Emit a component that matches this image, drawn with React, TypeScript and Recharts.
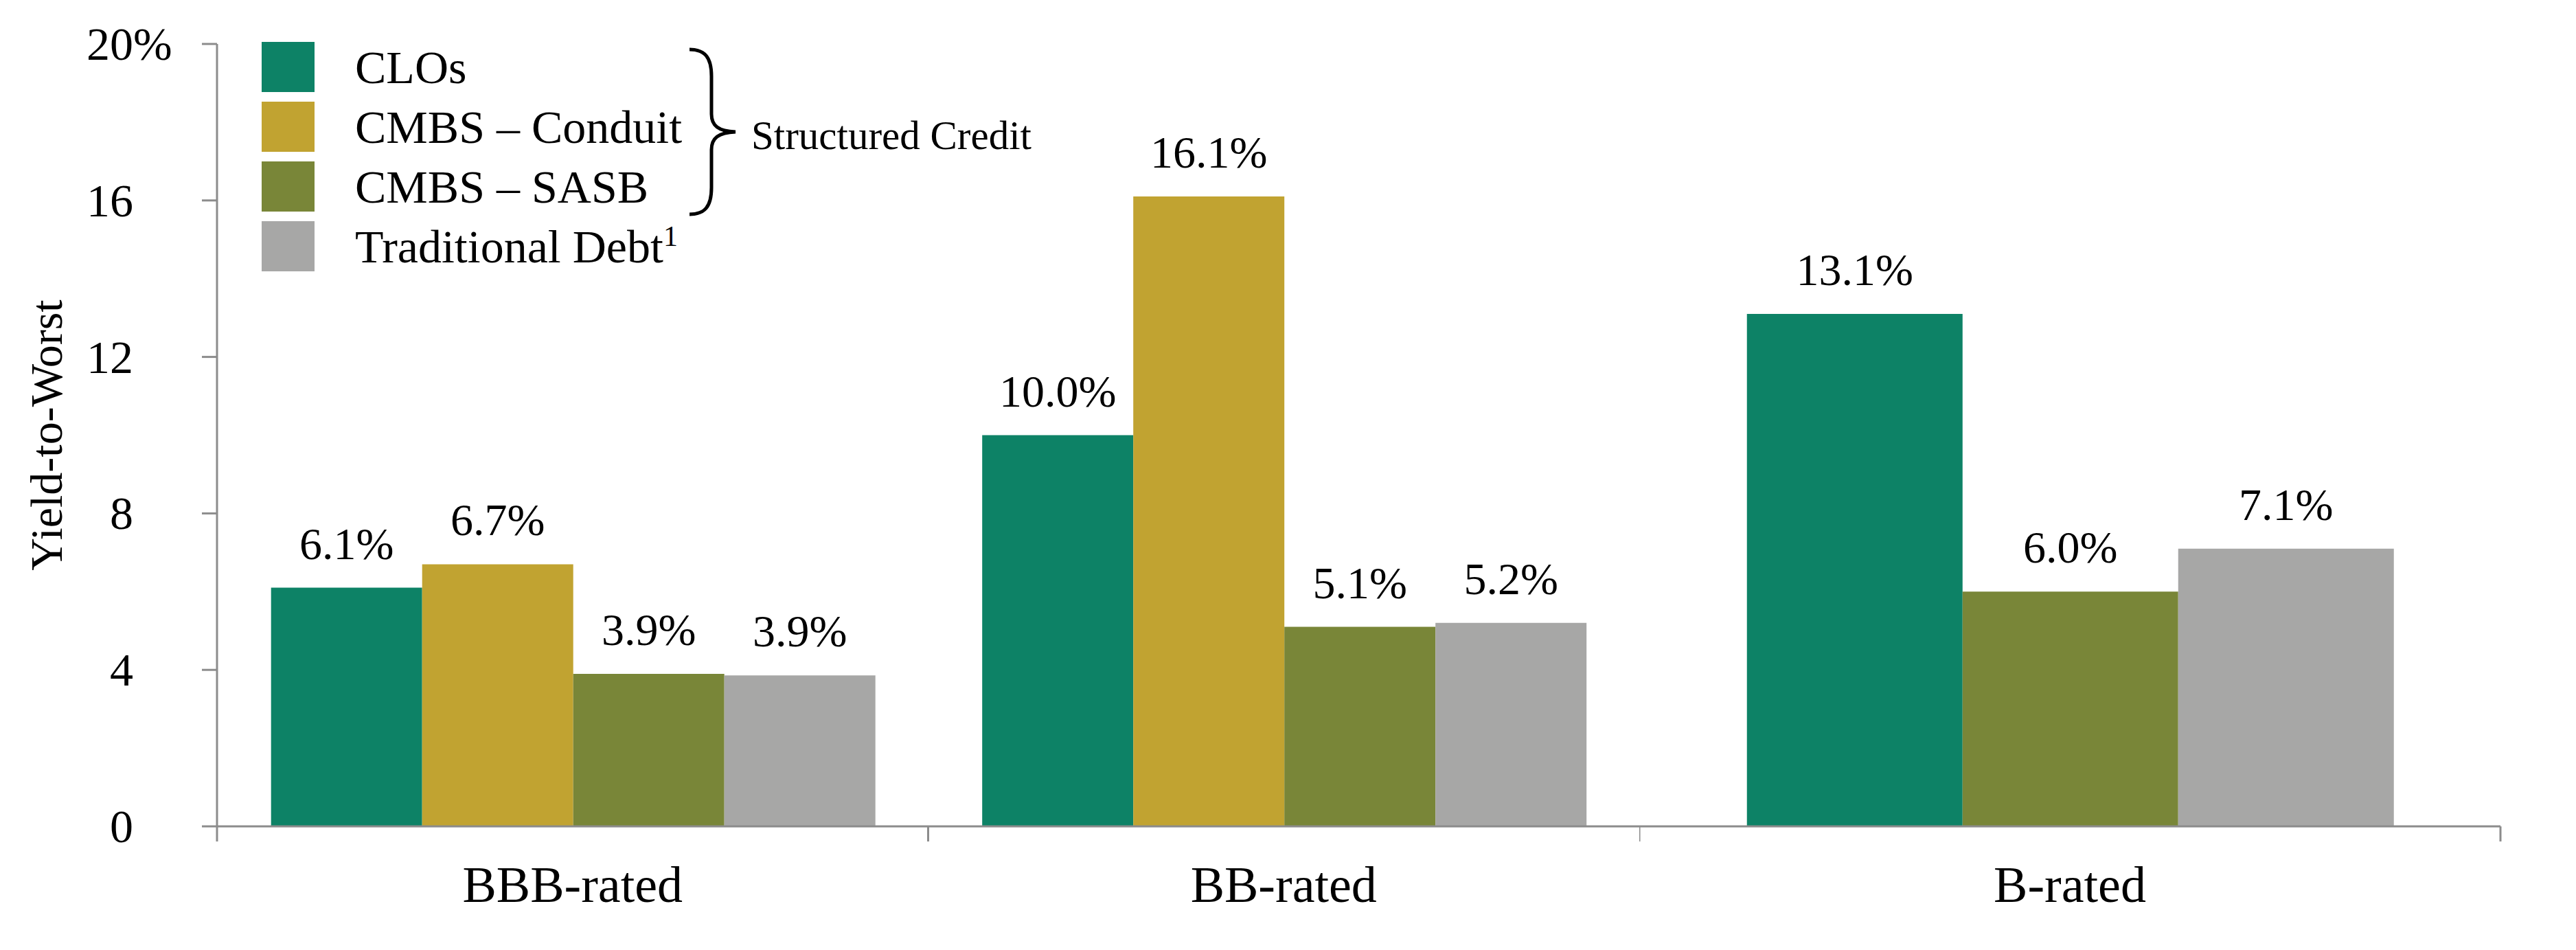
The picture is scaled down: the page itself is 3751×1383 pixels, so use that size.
import { Bar, BarChart, LabelList, Legend, XAxis, YAxis } from "recharts";

const FONT = '"Liberation Serif", "Times New Roman", serif';
const AXIS_GRAY = "#8c8c8c";

const categories = ["BBB-rated", "BB-rated", "B-rated"];
const closValues = [6.1, 10.0, 13.1];
const conduitValues: (number | null)[] = [6.7, 16.1, null];
const sasbValues = [3.9, 5.1, 6.0];
const traditionalValues = [3.86, 5.2, 7.1];
const yTicks = [0, 4, 8, 12, 16, 20];

const series = [
  { key: "clos", name: "CLOs", color: "#0d8266", values: closValues },
  { key: "conduit", name: "CMBS – Conduit", color: "#c1a331", values: conduitValues },
  { key: "sasb", name: "CMBS – SASB", color: "#798638", values: sasbValues },
  { key: "traditional", name: "Traditional Debt", color: "#a7a7a6", values: traditionalValues },
];

type Row = { category: string; [k: string]: number | string | null };

const rows: Row[] = categories.map((category, i) => {
  const row: Row = { category };
  series.forEach((s) => {
    row[s.key] = s.values[i];
  });
  return row;
});

const leftRows = rows.slice(0, 2);
const rightRows = rows.slice(2);
const rightSeries = series.filter((s) => s.values[2] != null);

const formatPct = (v: any) => (v == null ? "" : `${Number(v).toFixed(1)}%`);

const textStyle = { fontFamily: FONT };

function YTick({ x, y, payload }: any) {
  return (
    <g>
      <text x={x} y={y} textAnchor="end" dominantBaseline="central" style={textStyle} fontSize={68} fill="#000">
        {payload.value}
      </text>
      {payload.value === 20 && (
        <text x={x} y={y} textAnchor="start" dominantBaseline="central" style={textStyle} fontSize={68} fill="#000">
          %
        </text>
      )}
    </g>
  );
}

function makeCategoryTick(closeRight: boolean) {
  return function CategoryTick({ x, y, payload, width, visibleTicksCount, index }: any) {
    const half = payload?.offset || width / visibleTicksCount / 2;
    const isLast = index === visibleTicksCount - 1;
    return (
      <g>
        <line x1={x - half} x2={x - half} y1={y} y2={y + 22} stroke={AXIS_GRAY} strokeWidth={3} />
        {closeRight && isLast && (
          <line x1={x + half} x2={x + half} y1={y} y2={y + 22} stroke={AXIS_GRAY} strokeWidth={3} />
        )}
        <text x={x} y={y + 110} textAnchor="middle" style={textStyle} fontSize={74} fill="#000">
          {payload.value}
        </text>
      </g>
    );
  };
}

function LegendContent({ payload }: any) {
  const items = payload || [];
  return (
    <svg width={1200} height={340} style={{ overflow: "visible" }}>
      {items.map((entry: any, i: number) => (
        <g key={entry.value} transform={`translate(0, ${i * 87})`}>
          <rect x={0} y={0} width={77} height={73} fill={entry.color} />
          <text x={136} y={60} style={textStyle} fontSize={68} fill="#000">
            {entry.value}
            {i === items.length - 1 && (
              <tspan fontSize={42} dy={-24}>
                1
              </tspan>
            )}
          </text>
        </g>
      ))}
      <path
        d="M 623 11 C 645 11 655 22 655 50 L 655 105 C 655 122 665 130 690 131 C 665 132 655 140 655 157 L 655 212 C 655 240 645 251 623 251"
        fill="none"
        stroke="#000"
        strokeWidth={5}
      />
      <text x={713} y={156} style={textStyle} fontSize={59} fill="#000">
        Structured Credit
      </text>
    </svg>
  );
}

export default function App() {
  return (
    <div
      style={{
        position: "absolute",
        left: 0,
        top: 0,
        width: 3751,
        height: 1383,
        background: "#fff",
        fontFamily: FONT,
      }}
    >
      <div style={{ position: "absolute", left: 0, top: 0 }}>
        <BarChart
          width={2387}
          height={1383}
          data={leftRows}
          margin={{ top: 64, right: 0, bottom: 0, left: 0 }}
          barCategoryGap="7.6%"
          barGap={0}
          style={textStyle}
        >
          <XAxis
            dataKey="category"
            height={180}
            interval={0}
            tickSize={0}
            tickMargin={0}
            tickLine={false}
            axisLine={{ stroke: AXIS_GRAY, strokeWidth: 3 }}
            tick={makeCategoryTick(false)}
          />
          <YAxis
            width={316}
            domain={[0, 20]}
            ticks={yTicks}
            interval={0}
            tickSize={22}
            tickMargin={100}
            axisLine={{ stroke: AXIS_GRAY, strokeWidth: 3 }}
            tickLine={{ stroke: AXIS_GRAY, strokeWidth: 3 }}
            tick={<YTick />}
            label={{
              value: "Yield-to-Worst",
              angle: -90,
              position: "center",
              dx: -91,
              style: textStyle,
              fontSize: 66,
              fill: "#000",
            }}
          />
          <Legend
            layout="horizontal"
            verticalAlign="middle"
            align="center"
            wrapperStyle={{ left: 381, top: 61, width: 1200, height: 340 }}
            content={<LegendContent />}
          />
          {series.map((s) => (
            <Bar key={s.key} dataKey={s.key} name={s.name} fill={s.color} isAnimationActive={false}>
              <LabelList
                dataKey={s.key}
                position="top"
                offset={42}
                formatter={formatPct}
                style={textStyle}
                fontSize={66}
                fill="#000"
              />
            </Bar>
          ))}
        </BarChart>
      </div>
      <div style={{ position: "absolute", left: 2387, top: 0 }}>
        <BarChart
          width={1364}
          height={1383}
          data={rightRows}
          margin={{ top: 64, right: 110, bottom: 0, left: 0 }}
          barCategoryGap="12.5%"
          barGap={0}
          style={textStyle}
        >
          <XAxis
            dataKey="category"
            height={180}
            interval={0}
            tickSize={0}
            tickMargin={0}
            tickLine={false}
            axisLine={{ stroke: AXIS_GRAY, strokeWidth: 3 }}
            tick={makeCategoryTick(true)}
          />
          <YAxis hide domain={[0, 20]} ticks={yTicks} />
          {rightSeries.map((s) => (
            <Bar key={s.key} dataKey={s.key} name={s.name} fill={s.color} isAnimationActive={false}>
              <LabelList
                dataKey={s.key}
                position="top"
                offset={42}
                formatter={formatPct}
                style={textStyle}
                fontSize={66}
                fill="#000"
              />
            </Bar>
          ))}
        </BarChart>
      </div>
    </div>
  );
}
